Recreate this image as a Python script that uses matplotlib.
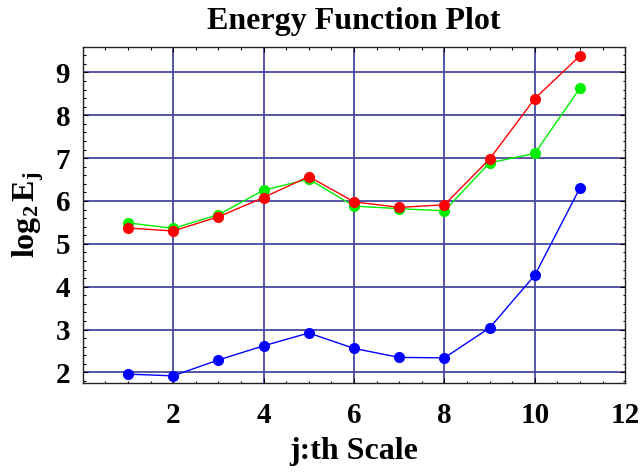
import matplotlib
matplotlib.use("Agg")
import matplotlib.pyplot as plt
from matplotlib.ticker import MultipleLocator, FixedLocator

plt.rcParams['mathtext.fontset'] = 'custom'
plt.rcParams['mathtext.rm'] = 'Liberation Serif'
plt.rcParams['mathtext.bf'] = 'Liberation Serif:bold'
plt.rcParams['mathtext.it'] = 'Liberation Serif:italic'

# Wavelet scale index
scales = [1, 2, 3, 4, 5, 6, 7, 8, 9, 10, 11]

# log2 of the energy at each scale, three signals
energy_blue = [1.96, 1.92, 2.29, 2.62, 2.92, 2.56, 2.35, 2.34, 3.04, 4.27, 6.31]
energy_green = [5.49, 5.36, 5.68, 6.25, 6.51, 5.88, 5.82, 5.77, 6.89, 7.11, 8.64]
energy_red = [5.37, 5.30, 5.63, 6.08, 6.57, 5.98, 5.85, 5.91, 6.98, 8.39, 9.39]

x_ticks = [2, 4, 6, 8, 10, 12]
y_ticks = [2, 3, 4, 5, 6, 7, 8, 9]

W, H = 643, 472
fig = plt.figure(figsize=(W / 100, H / 100), dpi=100)
ax = fig.add_axes([82.7 / W, 1 - 382.7 / H, (625.3 - 82.7) / W, (382.7 - 47.3) / H])

serif = 'Liberation Serif'
grid_color = '#4848a0'

for xv in [2, 4, 6, 8, 10]:
    ax.axvline(xv, color=grid_color, lw=1.3, zorder=1)
for yv in y_ticks:
    ax.axhline(yv, color=grid_color, lw=1.3, zorder=1)

ax.plot(scales, energy_blue, color='#0000ff', lw=1.0, marker='o', ms=8,
        markeredgewidth=0, zorder=3)
ax.plot(scales, energy_green, color='#00ee00', lw=1.0, marker='o', ms=8,
        markeredgewidth=0, zorder=3)
ax.plot(scales, energy_red, color='#ff0000', lw=1.0, marker='o', ms=8,
        markeredgewidth=0, zorder=4)

ax.set_xlim(0, 12)
ax.set_ylim(1.76, 9.585)

ax.xaxis.set_major_locator(FixedLocator(x_ticks))
ax.yaxis.set_major_locator(FixedLocator(y_ticks))
ax.xaxis.set_minor_locator(MultipleLocator(0.5))
ax.yaxis.set_minor_locator(MultipleLocator(0.2))
ax.tick_params(which='both', direction='in', top=True, right=True, color='black', width=0.8)
ax.tick_params(which='major', length=3.5)
ax.tick_params(which='minor', length=1.8)
ax.tick_params(axis='x', which='major', pad=14)
ax.tick_params(axis='y', which='major', pad=9)

for lab in ax.get_xticklabels() + ax.get_yticklabels():
    lab.set_fontfamily(serif)
    lab.set_fontweight('bold')
    lab.set_fontsize(21)

for sp in ax.spines.values():
    sp.set_color('#222222')
    sp.set_linewidth(1.0)

fig.text(354 / W, 1 - 22 / H, 'Energy Function Plot', family=serif, weight='bold',
         fontsize=23, ha='center', va='center')
fig.text(354 / W, 1 - 452 / H, 'j:th Scale', family=serif, weight='bold',
         fontsize=23, ha='center', va='center')
fig.text(28 / W, 1 - 215 / H, r'$\mathbf{log}_\mathbf{2}\,\mathbf{E}_\mathbf{j}$',
         fontsize=23, rotation=90, ha='center', va='center')

fig.savefig('out.png', dpi=100)
